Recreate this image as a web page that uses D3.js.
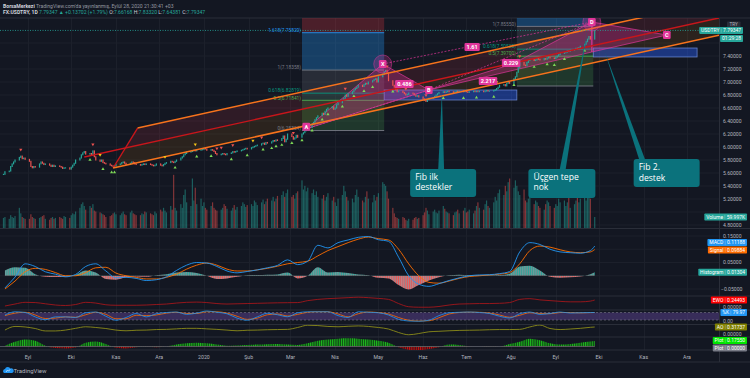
<!DOCTYPE html>
<html><head><meta charset="utf-8">
<script src="https://cdn.jsdelivr.net/npm/d3@7"></script>
<style>
html,body{margin:0;padding:0;background:#131722;}
svg{display:block;font-family:Roboto,"Noto Sans",sans-serif;}
</style></head><body>
<svg id="c" width="750" height="378"></svg>
<script>
// ---------------- DATA ----------------
const firstDay = "2019-08-15", lastDay = "2020-09-28";
// daily closes (weekdays), USDTRY
const closes = [5.58,5.62,
5.63,5.70,5.74,5.77,5.80, 5.84,5.86,5.82,5.83,5.81, 5.78,5.70,5.68,5.70,5.69, 5.74,5.77,5.75,5.73,5.74,
5.72,5.70,5.72,5.70,5.71, 5.70,5.69,5.67,5.68,5.68, 5.66,5.69,5.72,5.75,5.80, 5.83,5.88,5.91,5.93,5.89,
5.90,5.87,5.94,5.85,5.80, 5.78,5.80,5.76,5.75,5.74, 5.72,5.71,5.70,5.71,5.73, 5.74,5.76,5.77,5.75,5.73,
5.75,5.77,5.76,5.74,5.73, 5.72,5.73,5.74,5.73,5.74, 5.73,5.72,5.71,5.72,5.74, 5.72,5.71,5.73,5.75,5.76,
5.78,5.77,5.76,5.78,5.80, 5.83,5.85,5.88,5.90,5.92, 5.93,5.94,5.95,5.94,5.95, 5.96,5.96,5.98,5.97,5.95,
5.96,5.95,5.93,5.90,5.88, 5.89,5.90,5.89,5.88,5.90, 5.91,5.93,5.92,5.93,5.94, 5.95,5.96,5.97,5.98,5.97,
5.99,6.00,6.01,6.02,6.03, 6.05,6.06,6.04,6.07,6.06, 6.08,6.10,6.09,6.11,6.10, 6.13,6.17,6.08,6.12,6.20,
6.16,6.12,6.14,6.18,6.15, 6.20,6.22,6.25,6.28,6.30, 6.35,6.38,6.42,6.45,6.48, 6.52,6.50,6.55,6.58,6.60,
6.62,6.58,6.60,6.65,6.68, 6.72,6.75,6.80,6.78,6.82, 6.85,6.88,6.90,6.92,6.95, 6.93,6.96,6.98,6.97,7.00,
7.02,7.04,7.05,7.00,7.08, 7.12,7.16,7.18,7.14,7.02, 6.95,6.92,6.88,6.85,6.86, 6.84,6.82,6.80,6.81,6.83,
6.82,6.80,6.78,6.79,6.77, 6.74,6.72,6.70,6.73,6.75, 6.76,6.78,6.80,6.82,6.84, 6.85,6.84,6.85,6.86,6.85,
6.84,6.85,6.86,6.85,6.86, 6.85,6.86,6.85,6.84,6.85, 6.86,6.85,6.86,6.85,6.86, 6.85,6.86,6.87,6.86,6.86,
6.87,6.88,6.90,6.92,6.95, 6.96,6.94,6.98,7.00,6.98, 7.05,7.08,7.15,7.22,7.30, 7.26,7.25,7.30,7.33,7.35,
7.33,7.34,7.36,7.35,7.34, 7.36,7.35,7.37,7.38,7.37, 7.36,7.38,7.40,7.42,7.44, 7.45,7.46,7.48,7.47,7.49,
7.50,7.52,7.51,7.53,7.55, 7.58,7.62,7.66,7.70,7.66,
7.79];
// daily volume (K)
const volumes = [55,60,
50,70,60,55,65, 110,80,60,55,50, 50,75,60,55,50, 55,60,65,70,50,
45,55,60,50,55, 60,55,50,65,60, 55,70,80,75,90, 110,130,140,120,100,
120,110,130,95,90, 85,80,75,70,60, 65,70,80,85,75, 70,80,90,75,70,
85,95,80,75,70, 70,80,75,90,85, 80,75,70,90,80, 100,90,110,95,85,
120,100,290,110,95, 130,110,180,210,140, 120,270,150,220,130, 160,120,140,110,100,
120,140,110,100,95, 100,110,130,120,105, 95,110,125,100,115, 120,140,130,115,125,
130,120,150,140,125, 140,155,130,145,160, 150,170,145,160,175, 180,200,170,190,210,
170,180,160,190,200, 260,210,230,200,220, 190,210,180,200,170, 160,180,150,170,190,
150,170,140,120,160, 180,230,200,170,150, 160,140,180,210,170, 150,140,170,200,160,
140,180,150,170,190, 250,240,230,200,160, 110,80,60,55,50, 60,55,45,40,50,
45,55,60,50,55, 70,85,110,95,75, 90,100,85,80,95, 120,105,90,85,80,
70,85,90,100,80, 95,110,85,90,100, 80,95,120,140,110, 100,130,150,120,110,
140,170,150,190,210, 180,230,200,250,270, 220,260,230,200,180, 210,150,140,160,170,
130,150,140,120,110, 100,130,150,140,120, 110,130,120,160,140, 150,120,140,170,110,
130,150,170,140,160, 180,150,200,170,160,
60];
// weekly indicator samples (Fridays from 2019-08-16, last = 2020-09-28)
const macdLine = [-0.046,-0.005,0.045,0.035,0.015,0.006,-0.004,0.005,0.035,0.045,
0.018,-0.008,-0.006,-0.01,-0.018,-0.015,-0.004,0.02,0.04,0.05,
0.048,0.035,0.018,0.011,0.016,0.022,0.03,0.039,0.06,0.042,
0.055,0.115,0.105,0.125,0.135,0.145,0.148,0.136,0.13,0.07,
0.0,-0.032,-0.04,-0.03,-0.018,-0.008,0.0,0.003,0.004,0.008,
0.016,0.09,0.125,0.118,0.1,0.09,0.087,0.085,0.095,0.11188];
const signalLine = [-0.05,-0.02,0.015,0.028,0.024,0.012,0.0,0.0,0.012,0.03,
0.032,0.01,0.0,-0.006,-0.012,-0.012,-0.006,0.006,0.025,0.04,
0.048,0.04,0.025,0.018,0.018,0.022,0.028,0.036,0.045,0.05,
0.055,0.075,0.095,0.11,0.125,0.138,0.146,0.14,0.135,0.1,
0.045,0.0,-0.025,-0.028,-0.02,-0.01,-0.003,0.0,0.003,0.006,
0.012,0.045,0.095,0.112,0.108,0.098,0.09,0.087,0.09,0.09884];
const histogram = [0.02,0.032,0.03,0.006,-0.004,-0.005,-0.004,0.004,0.02,0.012,
-0.012,-0.015,-0.006,-0.003,-0.004,0.002,0.006,0.012,0.014,0.01,
0.0,-0.012,-0.01,-0.004,0.002,0.003,0.004,0.005,0.012,-0.01,
0.0,0.032,0.012,0.014,0.01,0.005,0.002,-0.008,-0.01,-0.035,
-0.052,-0.035,-0.018,-0.006,0.002,0.004,0.003,0.003,0.002,0.003,
0.008,0.035,0.038,0.02,-0.004,-0.008,-0.006,-0.003,0.006,0.01304];
const ewo = [0.0,0.08,0.15,0.14,0.09,0.04,0.02,0.06,0.15,0.12,
0.05,0.03,0.03,0.03,0.04,0.06,0.08,0.12,0.15,0.16,
0.14,0.10,0.08,0.09,0.10,0.11,0.12,0.13,0.135,0.14,
0.22,0.27,0.30,0.32,0.34,0.36,0.34,0.31,0.27,0.10,
-0.03,-0.05,-0.05,-0.02,0.04,0.08,0.09,0.10,0.10,0.11,
0.14,0.27,0.30,0.25,0.22,0.19,0.17,0.17,0.20,0.24493];
const stochK = [60,86,80,45,22,45,45,40,78,84,
50,18,40,72,45,70,80,84,65,75,
92,82,70,35,18,45,74,62,46,78,
86,86,86,55,40,86,82,78,60,25,
12,10,18,55,78,82,84,80,72,50,
36,70,84,65,72,84,76,78,80,79.97];
const stochD = [55,75,82,60,32,35,45,42,62,82,
65,30,30,58,55,60,75,82,72,72,
86,86,75,50,25,35,62,68,52,65,
82,86,86,68,45,70,84,80,68,40,
18,12,14,38,68,80,83,82,76,60,
42,58,78,72,70,80,80,77,79,80];
const aoVals = [0.14,0.35,0.32,0.23,0.09,0.09,0.14,0.24,0.33,0.29,
0.23,0.14,0.10,0.13,0.14,0.17,0.18,0.21,0.24,0.24,
0.21,0.18,0.14,0.10,0.13,0.14,0.16,0.17,0.18,0.29,
0.42,0.40,0.35,0.33,0.36,0.38,0.35,0.29,0.20,0.0,
-0.13,-0.06,0.04,0.07,0.10,0.12,0.13,0.14,0.16,0.17,
0.17,0.18,0.32,0.43,0.23,0.17,0.20,0.24,0.30,0.31737];
const plotVals = [0.02,0.15,0.22,0.18,0.02,-0.05,-0.06,-0.03,0.12,0.16,
0.08,-0.04,-0.06,-0.02,-0.01,-0.02,0.0,0.06,0.1,0.12,
0.1,0.06,0.02,0.03,0.05,0.06,0.07,0.08,0.06,0.05,
0.1,0.18,0.22,0.25,0.26,0.25,0.22,0.18,0.12,-0.02,
-0.1,-0.12,-0.08,-0.02,0.06,0.05,0.01,0.0,-0.01,0.0,
0.08,0.15,0.25,0.2,0.1,0.06,0.08,0.12,0.16,0.1755];
// signals
const buySignals = ["2019-10-14","2019-10-23","2019-10-29","2019-10-31","2019-12-12","2019-12-27","2020-01-06","2020-01-20","2020-01-31","2020-02-11","2020-02-17","2020-02-20","2020-02-24","2020-03-02","2020-03-09","2020-03-16","2020-03-23","2020-03-27","2020-04-06","2020-04-14","2020-04-21","2020-04-27","2020-05-11","2020-06-15","2020-06-29","2020-07-08","2020-07-20","2020-08-03","2020-08-17","2020-08-26","2020-08-31","2020-09-07","2020-09-21"];
const sellSignals = ["2019-08-27","2019-10-16","2020-01-10","2020-01-13","2020-01-21","2020-02-10","2020-03-03","2020-03-10","2020-04-08","2020-05-07","2020-05-20","2020-06-03","2020-08-07"];
const warnSignals = ["2019-10-21","2019-12-05","2019-12-26","2020-02-04","2020-07-22"];
// axes
const priceTicks = [4.8,5.0,5.2,5.4,5.6,5.8,6.0,6.2,6.4,6.6,6.8,7.0,7.2,7.4,7.6];
const monthLabels = ["Eyl","Eki","Kas","Ara","2020","Şub","Mar","Nis","May","Haz","Tem","Ağu","Eyl","Eki","Kas","Ara"];
const macdTicks = [0.15,0.05,-0.05];
// drawings
const pitchfork = [["2019-10-10",5.846],["2019-11-16",6.292],["2019-10-30",5.677]];
const fibLevels = [0,0.5,0.618,1,1.618,2.618];
const fib1Range = ["2020-03-09","2020-05-05"];
const fib1Prices = [6.25324,6.71841,6.82819,7.18358,7.75820,8.68893];
const fib1Shown = [1,1,1,1,1,0];
const fib2Range = ["2020-08-05","2020-09-27"];
const fib2Prices = [6.93850,7.39700,7.50520,7.85550,8.42240,9.34000];
const fib2Shown = [0,1,1,1,0,0];
const boxes = [[["2020-05-05",6.877],["2020-08-05",6.723]],[["2020-09-27",7.523],["2020-12-08",7.385]]];
const patternPts = {A:["2020-03-12",6.28],X:["2020-05-04",7.277],B:["2020-06-05",6.877],P:["2020-08-02",7.277],D:["2020-09-26",7.923],Q:["2020-09-26",7.4615],C:["2020-11-17",7.723]};
const ratioLabels = [["0.486","2020-05-19",6.969],["2.217","2020-07-16",7.015],["0.229","2020-08-01",7.292],["1.61","2020-07-05",7.54]];
const callouts = [
 {lines:["Fib ilk","destekler"], box:["2020-05-23",5.662], w:66, h:28, base:31, tip:["2020-06-14",6.831]},
 {lines:["Üçgen tepe","nok"], box:["2020-08-13",5.662], w:67, h:29, base:34, tip:["2020-09-23",7.80]},
 {lines:["Fib 2.","destek"], box:["2020-10-25",5.815], w:66, h:28, base:9, tip:["2020-10-05",7.4615]}
];

// ---------------- SCALES ----------------
const parse = d3.timeParse("%Y-%m-%d");
const days = d3.timeDay.range(parse(firstDay), d3.timeDay.offset(parse(lastDay),1)).filter(d=>d.getDay()>0&&d.getDay()<6);
const N = Math.min(days.length, closes.length, volumes.length);
const weeks = d3.timeFriday.range(parse("2019-08-16"), parse("2020-09-26")); weeks.push(parse("2020-09-28"));
const x = d3.scaleTime().domain([new Date(2019,8,1), new Date(2020,11,1)]).range([28,687]);
const yP = d3.scaleLinear().domain([5.2,7.4]).range([199,56]);
const yV = d3.scaleLinear().domain([0,59.997]).range([228,217]);
const yM = d3.scaleLinear().domain([-0.05,0.15]).range([289,236]);
const yE = d3.scaleLinear().domain([0,0.24493]).range([306,300]);
const yS = d3.scaleLinear().domain([0,100]).range([322.5,310]);
const yA = d3.scaleLinear().domain([0,0.31737]).range([332.5,327]);
const yL = d3.scaleLinear().domain([0,0.1755]).range([346.5,341]);
const XR = 719;
const dayIdx = new Map(days.map((d,i)=>[+d,i]));
const P = a => [x(parse(a[0])), yP(a[1])];

const svg = d3.select("#c");
const defs = svg.append("defs");
svg.append("rect").attr("width",750).attr("height",378).attr("fill","#131722");
function clip(id,x0,y0,w,h){defs.append("clipPath").attr("id",id).append("rect").attr("x",x0).attr("y",y0).attr("width",w).attr("height",h);}
clip("main",0,18,XR,210); clip("macdP",0,229,XR,67); clip("ewoP",0,296,XR,14);
clip("stP",0,310,XR,14.5); clip("aoP",0,324.5,XR,12.5); clip("plP",0,337,XR,13);
clip("above0",0,0,XR,yM(0)); clip("below0",0,yM(0),XR,100);
clip("abovePl",0,0,XR,yL(0)); clip("belowPl",0,yL(0),XR,40);
function stripes(id,c1,c2){const p=defs.append("pattern").attr("id",id).attr("patternUnits","userSpaceOnUse").attr("width",2.2).attr("height",10);
 p.append("rect").attr("width",1.1).attr("height",10).attr("fill",c1);
 p.append("rect").attr("x",1.1).attr("width",0.8).attr("height",10).attr("fill",c2);}
stripes("hPos","#26a69a","#b2dfdb"); stripes("hNeg","#ef5350","#ffcdd2");
stripes("pPos","#1fbf1f","#0b6b0b"); stripes("pNeg","#d01010","#6b0b0b");

// ---------------- GRID ----------------
const gridC = "#1c202b";
const months = d3.timeMonth.range(new Date(2019,8,1), new Date(2020,11,2));
const grid = svg.append("g").attr("stroke",gridC).attr("stroke-width",1);
months.forEach(m=>grid.append("line").attr("x1",Math.round(x(m))+0.5).attr("x2",Math.round(x(m))+0.5).attr("y1",18).attr("y2",350));
priceTicks.forEach(p=>{const yy=yP(p); if(yy>19&&yy<227) grid.append("line").attr("x1",0).attr("x2",XR).attr("y1",yy).attr("y2",yy);});
[0.15,0.1,0.05,0,-0.05].forEach(v=>grid.append("line").attr("x1",0).attr("x2",XR).attr("y1",yM(v)).attr("y2",yM(v)));
const sep = svg.append("g").attr("stroke","#2a2e39").attr("stroke-width",1);
[18,228.5,296,310,324.5,337,350,362].forEach(yy=>sep.append("line").attr("x1",0).attr("x2",750).attr("y1",yy).attr("y2",yy));
sep.append("line").attr("x1",XR+0.5).attr("x2",XR+0.5).attr("y1",18).attr("y2",362);

// ---------------- MAIN PANE ----------------
const gm = svg.append("g").attr("clip-path","url(#main)");
const [p1,p2,p3] = pitchfork.map(P);
const mid = [(p2[0]+p3[0])/2,(p2[1]+p3[1])/2];
const slope = (mid[1]-p1[1])/(mid[0]-p1[0]);
const ext = p => [XR, p[1]+slope*(XR-p[0])];
gm.append("path").attr("d",d3.line()([p2,ext(p2),ext(mid),mid])).attr("fill","rgba(242,54,69,0.13)");
gm.append("path").attr("d",d3.line()([mid,ext(mid),ext(p3),p3])).attr("fill","rgba(255,152,0,0.10)");
const fibFill = ["rgba(76,175,80,0.22)","rgba(8,153,129,0.22)","rgba(120,123,134,0.22)","rgba(33,150,243,0.32)","rgba(242,54,69,0.25)"];
const fibLine = ["#787b86","#4caf50","#089981","#787b86","#2196f3","#f23645"];
function fib(range, prices, shown){
 const x0=x(parse(range[0])), x1=x(parse(range[1]));
 for(let i=0;i<prices.length-1;i++){const a=yP(prices[i]), b=yP(prices[i+1]);
  gm.append("rect").attr("x",x0).attr("width",x1-x0).attr("y",Math.min(a,b)).attr("height",Math.abs(a-b)).attr("fill",fibFill[i]);}
 prices.forEach((p,i)=>{const yy=yP(p);
  gm.append("line").attr("x1",x0).attr("x2",x1).attr("y1",yy).attr("y2",yy).attr("stroke",fibLine[i]).attr("stroke-width",0.9);
  if(shown[i]) gm.append("text").attr("x",x0-1).attr("y",yy-0.8).attr("text-anchor","end").attr("font-size",4.8).attr("fill",fibLine[i]).text(fibLevels[i]+"("+d3.format(".5f")(p)+")");});
}
fib(fib1Range,fib1Prices,fib1Shown); fib(fib2Range,fib2Prices,fib2Shown);
boxes.forEach(b=>{const a=P(b[0]), c=P(b[1]);
 gm.append("rect").attr("x",a[0]).attr("y",a[1]).attr("width",c[0]-a[0]).attr("height",c[1]-a[1]).attr("fill","rgba(41,98,255,0.42)").attr("stroke","rgba(120,150,230,0.8)").attr("stroke-width",0.8);});
const pp = {}; Object.keys(patternPts).forEach(k=>pp[k]=P(patternPts[k]));
const pink = "#e0359a";
[[pp.A,pp.X,pp.B],[pp.B,pp.P,pp.D,pp.Q],[pp.D,pp.C,pp.Q]].forEach(poly=>
 gm.append("path").attr("d",d3.line()(poly)+"Z").attr("fill","rgba(224,53,154,0.30)").attr("stroke",pink).attr("stroke-width",0.7));
// volume
const bw = 1.2;
const gv = gm.append("g");
for(let i=0;i<N;i++){const o=i?closes[i-1]:closes[0], c=closes[i];
 gv.append("rect").attr("x",x(days[i])-bw/2).attr("width",bw).attr("y",yV(volumes[i])).attr("height",228-yV(volumes[i]))
  .attr("fill",c>=o?"rgba(38,166,154,0.5)":"rgba(239,83,80,0.5)");}
// candles
const gc = gm.append("g");
for(let i=0;i<N;i++){const o=i?closes[i-1]:closes[0], c=closes[i];
 const y1=yP(Math.max(o,c)), y2=yP(Math.min(o,c));
 gc.append("rect").attr("x",x(days[i])-bw/2).attr("width",bw).attr("y",y1-0.5).attr("height",Math.max(1.2,y2-y1+1))
  .attr("fill",c>=o?"#26a69a":"#ef5350");}
// pitchfork lines
const orange="#f7731c", red="#c8161b";
gm.append("line").attr("x1",p2[0]).attr("y1",p2[1]).attr("x2",p3[0]).attr("y2",p3[1]).attr("stroke",red).attr("stroke-width",1.4);
gm.append("line").attr("x1",p1[0]).attr("y1",p1[1]).attr("x2",ext(p1)[0]).attr("y2",ext(p1)[1]).attr("stroke",red).attr("stroke-width",1.4);
[p2,p3].forEach(p=>gm.append("line").attr("x1",p[0]).attr("y1",p[1]).attr("x2",ext(p)[0]).attr("y2",ext(p)[1]).attr("stroke",orange).attr("stroke-width",1.5));
[[pp.A,pp.B],[pp.X,pp.D],[pp.B,pp.D]].forEach(s=>gm.append("line").attr("x1",s[0][0]).attr("y1",s[0][1]).attr("x2",s[1][0]).attr("y2",s[1][1]).attr("stroke",pink).attr("stroke-width",0.7).attr("stroke-dasharray","2,1.5"));
[pp.X,pp.D].forEach(p=>gm.append("circle").attr("cx",p[0]).attr("cy",p[1]).attr("r",9).attr("fill","rgba(224,53,154,0.25)").attr("stroke","rgba(224,53,154,0.7)").attr("stroke-width",0.7));
function markAt(list, dy, shape, color){list.forEach(s=>{const i=dayIdx.get(+parse(s)); if(i===undefined) return; const cx=x(days[i]), cy=yP(closes[i])+dy;
 const tri = shape==="up"?[[cx-1.6,cy+1.3],[cx+1.6,cy+1.3],[cx,cy-1.4]]:[[cx-1.6,cy-1.3],[cx+1.6,cy-1.3],[cx,cy+1.4]];
 gm.append("path").attr("d",d3.line()(tri)+"Z").attr("fill",color);});}
markAt(buySignals,6,"up","#7ed957"); markAt(sellSignals,-6,"down","#ef5350"); markAt(warnSignals,-6,"down","#f5c518");
gm.append("line").attr("x1",0).attr("x2",XR).attr("y1",yP(7.79347)).attr("y2",yP(7.79347)).attr("stroke","#26a69a").attr("stroke-width",0.8).attr("stroke-dasharray","1,1.5");
function pinkLabel(t,px,py){const g=gm.append("g");
 const tx=g.append("text").attr("x",px).attr("y",py).attr("dy","0.35em").attr("text-anchor","middle").attr("font-size",5.6).attr("font-weight","bold").attr("fill","#fff").text(t);
 const w=tx.node().getComputedTextLength()+4;
 g.insert("rect","text").attr("x",px-w/2).attr("y",py-4).attr("width",w).attr("height",8).attr("rx",1.2).attr("fill",pink);}
pinkLabel("A",pp.A[0],pp.A[1]-2); pinkLabel("X",pp.X[0],pp.X[1]); pinkLabel("B",pp.B[0],pp.B[1]);
pinkLabel("D",pp.D[0],pp.D[1]); pinkLabel("C",pp.C[0],pp.C[1]);
ratioLabels.forEach(r=>{const p=P([r[1],r[2]]); pinkLabel(r[0],p[0],p[1]);});

// ---------------- CALLOUTS ----------------
const calloutC = "#0b727c";
callouts.forEach(c=>{const b=P(c.box), t=P(c.tip);
 const bx=b[0]+c.base;
 svg.append("path").attr("d",d3.line()([[bx-3,b[1]+2],[t[0],t[1]],[bx+3,b[1]+2]])+"Z").attr("fill",calloutC);
 svg.append("rect").attr("x",b[0]).attr("y",b[1]).attr("width",c.w).attr("height",c.h).attr("rx",3).attr("fill",calloutC);
 c.lines.forEach((l,i)=>svg.append("text").attr("x",b[0]+5).attr("y",b[1]+11+i*10.5).attr("font-family","'Open Sans',sans-serif").attr("font-size",8.6).attr("fill","#fff").text(l));
});

// ---------------- INDICATOR PANES ----------------
const lineGen = (ys, arr) => d3.line().x((d,i)=>x(weeks[i])).y(d=>ys(d)).curve(d3.curveMonotoneX)(arr);
const areaGen = (ys, arr) => d3.area().x((d,i)=>x(weeks[i])).y0(ys(0)).y1(d=>ys(d)).curve(d3.curveMonotoneX)(arr);
const gM = svg.append("g").attr("clip-path","url(#macdP)");
gM.append("g").attr("clip-path","url(#above0)").append("path").attr("d",areaGen(yM,histogram)).attr("fill","url(#hPos)");
gM.append("g").attr("clip-path","url(#below0)").append("path").attr("d",areaGen(yM,histogram)).attr("fill","url(#hNeg)");
gM.append("path").attr("d",lineGen(yM,signalLine)).attr("fill","none").attr("stroke","#ff6d00").attr("stroke-width",0.9);
gM.append("path").attr("d",lineGen(yM,macdLine)).attr("fill","none").attr("stroke","#2196f3").attr("stroke-width",0.9);
svg.append("g").attr("clip-path","url(#ewoP)").append("path").attr("d",lineGen(yE,ewo)).attr("fill","none").attr("stroke","#a3161b").attr("stroke-width",0.9);
const gS = svg.append("g").attr("clip-path","url(#stP)");
gS.append("rect").attr("x",0).attr("width",XR).attr("y",yS(80)).attr("height",yS(20)-yS(80)).attr("fill","rgba(126,87,194,0.35)");
[80,20].forEach(v=>gS.append("line").attr("x1",0).attr("x2",XR).attr("y1",yS(v)).attr("y2",yS(v)).attr("stroke","#787b86").attr("stroke-width",0.6).attr("stroke-dasharray","2,2"));
gS.append("path").attr("d",lineGen(yS,stochD)).attr("fill","none").attr("stroke","#ff6d00").attr("stroke-width",0.8);
gS.append("path").attr("d",lineGen(yS,stochK)).attr("fill","none").attr("stroke","#2196f3").attr("stroke-width",0.8);
svg.append("g").attr("clip-path","url(#aoP)").append("path").attr("d",lineGen(yA,aoVals)).attr("fill","none").attr("stroke","#8c8c1a").attr("stroke-width",0.9);
const gL = svg.append("g").attr("clip-path","url(#plP)");
gL.append("g").attr("clip-path","url(#abovePl)").append("path").attr("d",areaGen(yL,plotVals)).attr("fill","url(#pPos)");
gL.append("g").attr("clip-path","url(#belowPl)").append("path").attr("d",areaGen(yL,plotVals)).attr("fill","url(#pNeg)");
gL.append("line").attr("x1",0).attr("x2",x(weeks[weeks.length-1])).attr("y1",yL(0)).attr("y2",yL(0)).attr("stroke","#787b86").attr("stroke-width",0.6);

// ---------------- AXES ----------------
const axisC = "#b2b5be";
const tagYs = [yP(7.79347), yP(7.79347)+8.2, yV(59.997)];
priceTicks.forEach(p=>{const yy=yP(p); if(yy<20||yy>227) return; if(tagYs.some(t=>Math.abs(t-yy)<6.5)) return;
 svg.append("text").attr("x",723).attr("y",yy).attr("dy","0.35em").attr("font-size",5.1).attr("fill",axisC).text(d3.format(".5f")(p));});
macdTicks.forEach(v=>svg.append("text").attr("x",v<0?721:723).attr("y",yM(v)).attr("dy","0.35em").attr("font-size",5.1).attr("fill",axisC).text(d3.format(".5f")(v)));
[[yE(0)+1.3,"0.00000"],[yS(0)-1.2,"0.00"],[yA(0)+1.3,"0.00000"]].forEach(t=>svg.append("text").attr("x",723).attr("y",t[0]).attr("dy","0.35em").attr("font-size",5.1).attr("fill",axisC).text(t[1]));
months.forEach((m,i)=>svg.append("text").attr("x",x(m)).attr("y",357).attr("dy","0.35em").attr("text-anchor","middle").attr("font-size",5.2).attr("fill",axisC).text(monthLabels[i]));

function tag(y,name,value,bg,right=747,fg="#fff"){
 const g=svg.append("g"); const fs=5, pad=1.8;
 const tv=g.append("text").attr("font-size",fs).attr("fill",fg).attr("y",y).attr("dy","0.35em").text(value);
 const wv=tv.node().getComputedTextLength();
 let tn=null, wn=0; if(name){tn=g.append("text").attr("font-size",fs).attr("fill",fg).attr("y",y).attr("dy","0.35em").text(name); wn=tn.node().getComputedTextLength();}
 const total=wv+pad*2+(name?wn+pad*2:0), x0=right-total;
 g.insert("rect","text").attr("x",x0).attr("y",y-3.5).attr("width",total).attr("height",7).attr("rx",0.8).attr("fill",bg);
 if(name){tn.attr("x",x0+pad); g.append("line").attr("x1",x0+wn+pad*2).attr("x2",x0+wn+pad*2).attr("y1",y-2.2).attr("y2",y+2.2).attr("stroke",fg).attr("stroke-opacity",0.6).attr("stroke-width",0.4);}
 tv.attr("x",right-pad-wv);
}
svg.append("rect").attr("x",727).attr("y",21.5).attr("width",13.5).attr("height",6).attr("rx",0.8).attr("fill","#2a2e39");
svg.append("text").attr("x",733.7).attr("y",24.5).attr("dy","0.35em").attr("text-anchor","middle").attr("font-size",4.6).attr("fill",axisC).text("TRY");
tag(yP(7.79347),"USDTRY","7.79347","#26a69a",743);
tag(yP(7.79347)+8.2,null,"01:29:28","#26a69a",743);
tag(yV(59.997),"Volume","59.997K","#26a69a");
tag(yM(0.11188)-3.5,"MACD","0.11188","#2196f3");
tag(yM(0.09884)+0.4,"Signal","0.09884","#ff6d00");
tag(yM(0.01304),"Histogram","0.01304","#26a69a");
tag(yE(0.24493),"EWO","0.24493","#ff0000");
tag(yS(79.97),"%K","79.97","#2196f3");
tag(yA(0.31737),"AO","0.31737","#808000");
tag(yL(0.1755)-0.4,"Plot","0.17550","#00e600");
tag(yL(0)+1.4,"Plot","0.00000","#787b86");

// ---------------- HEADER / FOOTER ----------------
const h1=svg.append("text").attr("x",3).attr("y",7.5).attr("font-size",5.1).attr("fill","#9598a1");
h1.append("tspan").attr("font-weight","bold").attr("fill","#d1d4dc").text("BorsaMerkezi");
h1.append("tspan").text(" TradingView.com'da yayınlanmış, Eylül 28, 2020 21:30:41 +03");
const h2=svg.append("text").attr("x",3).attr("y",14).attr("font-size",5.1).attr("fill","#d1d4dc");
const tc="#26a69a";
h2.append("tspan").attr("font-weight","bold").text("FX:USDTRY, 1D ");
h2.append("tspan").attr("fill",tc).text("7.79347 ▲ +0.13702 (+1.79%)");
[["O:","7.66168"],["H:","7.83320"],["L:","7.64381"],["C:","7.79347"]].forEach(p=>{h2.append("tspan").text(" "+p[0]); h2.append("tspan").attr("fill",tc).text(p[1]);});
const lg=svg.append("g").attr("transform","translate(3,366)");
lg.append("path").attr("d","M1,7 a2.2,2.2 0 0 1 1,-4 a3,3 0 0 1 5.5,-0.5 a2.2,2.2 0 0 1 1.5,4.5 z").attr("fill","#2196f3");
lg.append("path").attr("d","M3,6 l1.5,-2 l1.2,1.2 l1.5,-2").attr("fill","none").attr("stroke","#fff").attr("stroke-width",0.6);
svg.append("text").attr("x",13.5).attr("y",373).attr("font-size",6).attr("fill","#b2b5be").text("TradingView");
</script>
</body></html>
